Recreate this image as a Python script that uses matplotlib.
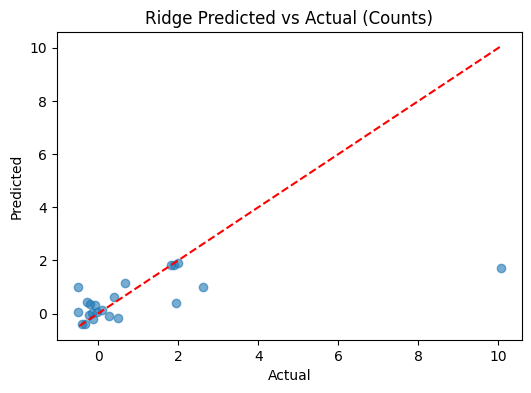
import matplotlib
matplotlib.use("Agg")
import matplotlib.pyplot as plt

actual = [-0.50, 0.67, 1.83, 1.90, 2.00, 2.63, 1.95, 0.40, -0.28, -0.20, -0.08,
          -0.50, -0.16, -0.04, 0.10, 0.26, 0.50, -0.12, -0.24, -0.40, -0.32, 10.06]
predicted = [1.00, 1.14, 1.82, 1.83, 1.90, 0.98, 0.38, 0.62, 0.42, 0.36, 0.32,
             0.07, 0.01, 0.06, 0.14, -0.08, -0.16, -0.19, -0.05, -0.38, -0.38, 1.72]
line_lo = -0.47
line_hi = 10.06

fig = plt.figure(figsize=(5.31, 3.93), dpi=100)
ax = fig.add_axes([0.1073, 0.1349, 0.8757, 0.7829])
ax.scatter(actual, predicted, alpha=0.6)
ax.plot([line_lo, line_hi], [line_lo, line_hi], 'r--')
ax.set_xlabel("Actual")
ax.set_ylabel("Predicted")
ax.set_title("Ridge Predicted vs Actual (Counts)")
fig.savefig("out.png", dpi=100)
